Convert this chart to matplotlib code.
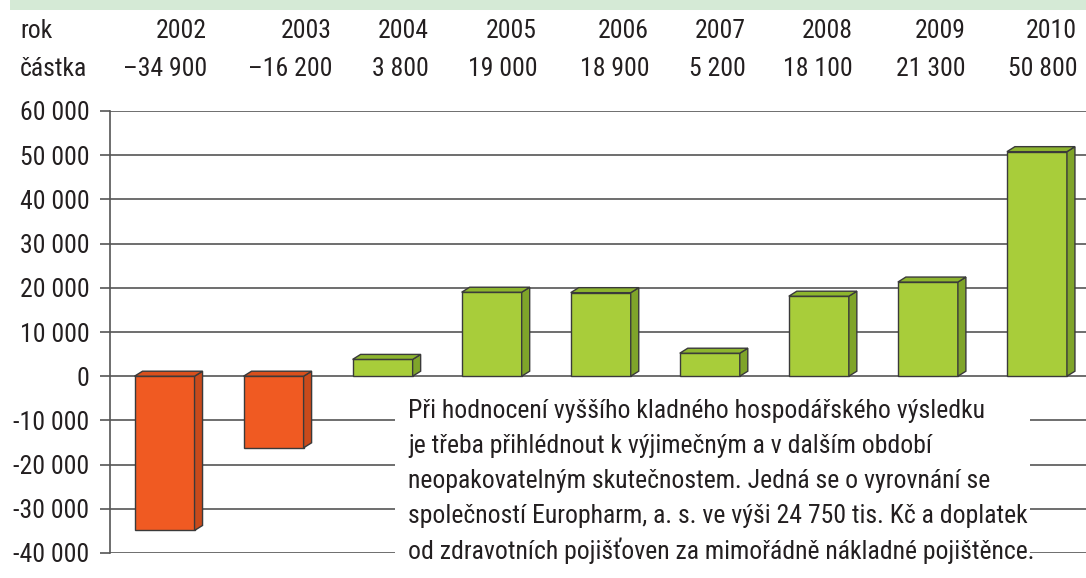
import matplotlib
matplotlib.use("Agg")
import matplotlib.pyplot as plt
from matplotlib.patches import Polygon, Rectangle
from matplotlib.ticker import FuncFormatter, MultipleLocator

# data
years = [2002, 2003, 2004, 2005, 2006, 2007, 2008, 2009, 2010]
amounts = [-34900, -16200, 3800, 19000, 18900, 5200, 18100, 21300, 50800]
row_labels = ["rok", "částka"]
note_lines = [
    "Při hodnocení vyššího kladného hospodářského výsledku",
    "je třeba přihlédnout k výjimečným a v dalším období",
    "neopakovatelným skutečnostem. Jedná se o vyrovnání se",
    "společností Europharm, a. s. ve výši 24 750 tis. Kč a doplatek",
    "od zdravotních pojišťoven za mimořádně nákladné pojištěnce.",
]

plt.rcParams['font.family'] = ['Roboto Condensed', 'Archivo Narrow', 'DejaVu Sans']
TXT = '#231f20'
FS = 18.5

W, H = 1086, 578
fig = plt.figure(figsize=(W / 100, H / 100), dpi=100)


def fx(x):
    return x / W


def fy(y):
    return 1 - y / H


# light green strip at the very top
fig.add_artist(Rectangle((fx(10), fy(10)), fx(W - 10), 10 / H, transform=fig.transFigure,
                         color='#d5ead6', lw=0))

# header table (right aligned columns)
col_right = [207, 332, 429, 537, 649, 746, 853, 966, 1077]
fig.text(fx(20), fy(31), row_labels[0], ha='left', va='center', fontsize=FS, color=TXT)
fig.text(fx(20), fy(69), row_labels[1], ha='left', va='center', fontsize=FS, color=TXT)
for xr, yr, val in zip(col_right, years, amounts):
    s = f"{abs(val):,}".replace(",", " ")
    if val < 0:
        s = "–" + s
    fig.text(fx(xr), fy(31), str(yr), ha='right', va='center', fontsize=FS, color=TXT)
    fig.text(fx(xr), fy(69), s, ha='right', va='center', fontsize=FS, color=TXT)

# main axes
ax = fig.add_axes([fx(110), fy(553), fx(W - 110), (553 - 111) / H])
ax.set_xlim(-0.5, 8.45)
ax.set_ylim(-40000, 60000)
ax.yaxis.set_major_locator(MultipleLocator(10000))
ax.yaxis.set_major_formatter(FuncFormatter(lambda v, p: f"{v:,.0f}".replace(",", " ")))
ax.set_xticks([])
for s in ['top', 'right', 'bottom']:
    ax.spines[s].set_visible(False)
ax.spines['left'].set_color('#555555')
ax.spines['left'].set_linewidth(1.2)
ax.tick_params(axis='y', length=7, width=1.2, color='#555555', pad=8,
               labelsize=FS, labelcolor=TXT)
ax.yaxis.grid(True, color='#555555', lw=1.2, zorder=0)
ax.set_axisbelow(True)

bw = 60 / 109
dx = 8 / 109
dy = 5 * 100000 / 442
edge = '#3a3a3a'
for i, v in enumerate(amounts):
    if v < 0:
        front, side, topc = '#f05a22', '#c94a1b', '#d9501d'
    else:
        front, side, topc = '#a8cd3a', '#7fa42a', '#8db52e'
    ax.bar(i, v, width=bw, color=front, edgecolor=edge, lw=1, zorder=3)
    x0, x1 = i - bw / 2, i + bw / 2
    top, bot = max(v, 0), min(v, 0)
    ax.add_patch(Polygon([(x1, bot), (x1 + dx, bot + dy), (x1 + dx, top + dy), (x1, top)],
                         closed=True, fc=side, ec=edge, lw=1, zorder=3))
    ax.add_patch(Polygon([(x0, top), (x0 + dx, top + dy), (x1 + dx, top + dy), (x1, top)],
                         closed=True, fc=topc, ec=edge, lw=1, zorder=3))

# note box over the lower gridlines
fig.add_artist(Rectangle((fx(395), fy(572)), fx(1030 - 395), (572 - 389) / H,
                         transform=fig.transFigure, color='white', lw=0, zorder=5))
for k, line in enumerate(note_lines):
    fig.text(fx(408), fy(411 + 35 * k), line, ha='left', va='center', fontsize=FS,
             color=TXT, zorder=6)

fig.savefig("out.png", dpi=100)
